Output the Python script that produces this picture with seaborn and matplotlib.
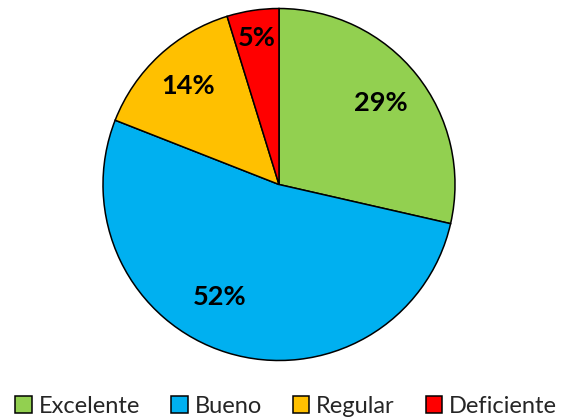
import matplotlib
matplotlib.use("Agg")
import matplotlib.pyplot as plt
import seaborn as sns
import numpy as np

sns.set_theme(style="white")
plt.rcParams['font.family'] = ['Lato', 'DejaVu Sans']

# data (counts, shown as percent)
categories = ["Excelente", "Bueno", "Regular", "Deficiente"]
values = [6, 11, 3, 1]
colors = ["#92D050", "#00B0F0", "#FFC000", "#FF0000"]
label_dist = [0.74, 0.72, 0.76, 0.84]

fig = plt.figure(figsize=(5.67, 4.19), dpi=100)
ax = fig.add_axes([103/567, (419-360.5)/419, 352/567, 352/419])

wedges, texts, autotexts = ax.pie(values, colors=colors, startangle=90, counterclock=False,
                                  autopct='%.0f%%', pctdistance=0.75,
                                  wedgeprops={'edgecolor': 'black', 'linewidth': 1.1},
                                  textprops={'fontsize': 19.5, 'fontweight': 'bold', 'color': 'black'})

# nudge labels to where they sit in the original
for w, t, d in zip(wedges, autotexts, label_dist):
    mid = np.deg2rad((w.theta1 + w.theta2) / 2)
    t.set_position((d * np.cos(mid), d * np.sin(mid)))
autotexts[1].set_position((-0.34, -0.64))

ax.set_xlim(-1, 1)
ax.set_ylim(-1, 1)
ax.set_aspect('equal')

fig.legend(wedges, categories, loc='lower center', bbox_to_anchor=(0.505, -0.045), ncol=4,
           frameon=False, fontsize=17, handlelength=0.7, handleheight=0.7,
           handletextpad=0.3, columnspacing=1.3)

fig.savefig("out.png", dpi=100)
